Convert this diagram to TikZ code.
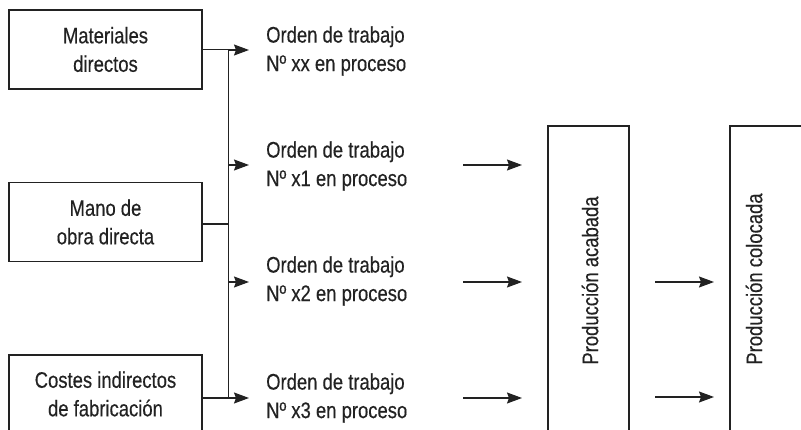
\documentclass[tikz,border=0pt]{standalone}
\usepackage{fontspec}
\setmainfont{Liberation Sans}[FakeStretch=0.82, FakeBold=0.35]
\usetikzlibrary{arrows.meta}
\definecolor{ink}{HTML}{222222}
\tikzset{
  lbl/.style={font=\fontsize{22.5}{28.5}\selectfont, text=ink, inner sep=0pt},
  srcbox/.style={lbl, draw=ink, line width=1.2pt, minimum width=193pt, minimum height=79pt, align=center},
  ordtxt/.style={lbl, anchor=west, align=left},
  conn/.style={draw=ink, line width=1.2pt},
  arr/.style={conn, -{Stealth[length=15pt, width=11pt, inset=2pt]}},
  vtxt/.style={lbl, rotate=90}
}
\begin{document}
\begin{tikzpicture}[x=1pt, y=1pt]
\useasboundingbox (0,0) rectangle (801,-430);
% source boxes
\node[srcbox] (m1) at (105.5,-49.5) {Materiales\\directos};
\node[srcbox] (m2) at (105.5,-222) {Mano de\\obra directa};
\node[lbl, align=center] (m3) at (105.5,-394) {Costes indirectos\\de fabricación};
\draw[conn] (9,-440) |- (202,-355) -- (202,-440);
\coordinate (m3e) at (202,-398);
% bus
\coordinate (b1) at (228.5,-50);
\coordinate (b2) at (228.5,-165);
\coordinate (b3) at (228.5,-282);
\coordinate (b4) at (228.5,-398);
\coordinate (t1) at (249,-50);
\coordinate (t2) at (249,-165);
\coordinate (t3) at (249,-282);
\coordinate (t4) at (249,-398);
\draw[conn] (b1) -- (b4);
\draw[conn] (m1.east) -- (m1.east -| b1);
\draw[conn] (m2.east) ++(0,-2) -- ++(26.5,0);
\draw[conn] (m3e) -- (b4);
\draw[arr] (b1) -- (t1);
\draw[arr] (b2) -- (t2);
\draw[arr] (b3) -- (t3);
\draw[arr] (b4) -- (t4);
% order texts
\node[ordtxt] (o1) at (266,-51) {Orden de trabajo\\Nº xx en proceso};
\node[ordtxt] (o2) at (266,-166) {Orden de trabajo\\Nº x1 en proceso};
\node[ordtxt] (o3) at (266,-281) {Orden de trabajo\\Nº x2 en proceso};
\node[ordtxt] (o4) at (266,-398) {Orden de trabajo\\Nº x3 en proceso};
% tall boxes
\draw[conn] (548,-440) |- (629,-126) -- (629,-440);
\draw[conn] (730,-440) |- (810,-126);
\node[vtxt] (pa) at (590,-280.5) {Producción acabada};
\node[vtxt] (pc) at (754,-279) {Producción colocada};
% arrows to boxes
\coordinate (s1) at (463,-165);
\coordinate (s2) at (463,-282);
\coordinate (s3) at (463,-398);
\coordinate (e1) at (522,-165);
\coordinate (e2) at (522,-282);
\coordinate (e3) at (522,-398);
\draw[arr] (s1) -- (e1);
\draw[arr] (s2) -- (e2);
\draw[arr] (s3) -- (e3);
\coordinate (u2) at (655,-282);
\coordinate (u3) at (655,-397);
\coordinate (v2) at (714,-282);
\coordinate (v3) at (714,-397);
\draw[arr] (u2) -- (v2);
\draw[arr] (u3) -- (v3);
\end{tikzpicture}
\end{document}
